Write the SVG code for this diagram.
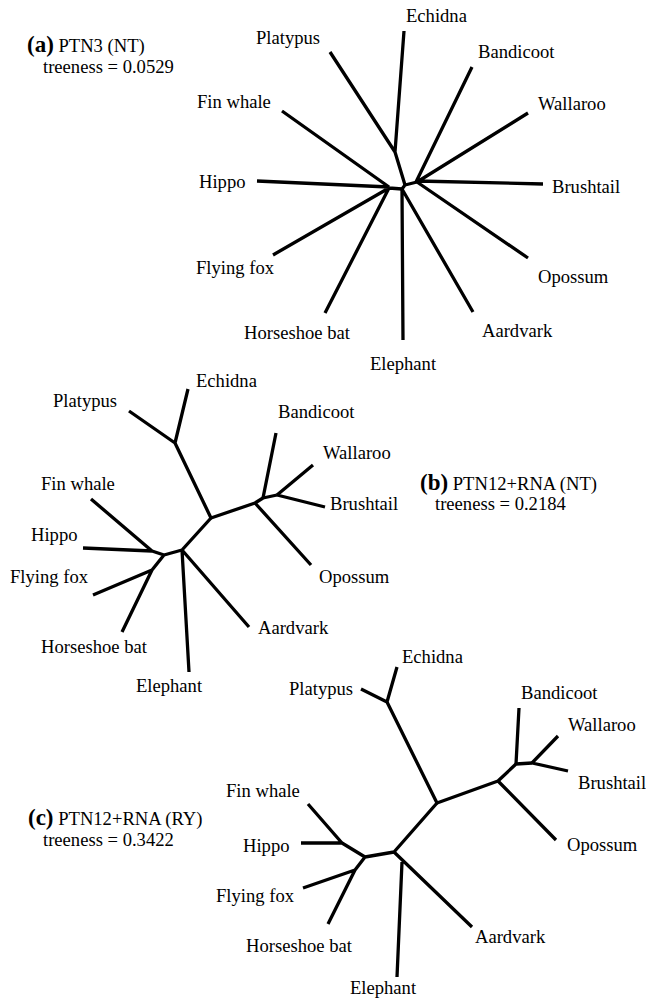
<svg xmlns="http://www.w3.org/2000/svg" width="646" height="1001" viewBox="0 0 646 1001">
<style>
text{font-family:"Liberation Serif","Times New Roman",serif;font-size:18.6px;fill:#000}
.b{font-weight:bold;font-size:23px}
.e path{fill:none;stroke:#000;stroke-width:3.3;stroke-linejoin:round}
</style>
<rect width="646" height="1001" fill="#fff"/>
<!-- Panel (a) -->
<g id="title-a"><text x="27" y="52"><tspan class="b">(a)</tspan> PTN3 (NT)</text><text x="43" y="73">treeness = 0.0529</text></g>
<g class="e" id="edges-a">
<path d="M404,31L395,152L405,185M330,52L395,152"/>
<path d="M282,111L389,187M257,181L389,187M273,255L389,188M325,313L389,188M389,188L402,189L405,185L417,182"/>
<path d="M403,340L402,189M473,312L402,189"/>
<path d="M472,67L416,182M528,113L417,182M543,184L417,181M528,258L417,182"/>
</g>
<g id="a-echidna"><text x="406" y="22">Echidna</text></g>
<g id="a-platypus"><text x="256" y="44">Platypus</text></g>
<g id="a-bandicoot"><text x="478" y="58">Bandicoot</text></g>
<g id="a-wallaroo"><text x="538" y="110">Wallaroo</text></g>
<g id="a-brushtail"><text x="552" y="193">Brushtail</text></g>
<g id="a-opossum"><text x="538" y="283">Opossum</text></g>
<g id="a-aardvark"><text x="482" y="337">Aardvark</text></g>
<g id="a-elephant"><text x="370" y="370">Elephant</text></g>
<g id="a-horseshoe"><text x="244" y="339">Horseshoe bat</text></g>
<g id="a-flyingfox"><text x="196" y="274">Flying fox</text></g>
<g id="a-hippo"><text x="199" y="188">Hippo</text></g>
<g id="a-finwhale"><text x="197" y="108">Fin whale</text></g>
<!-- Panel (b) -->
<g id="title-b"><text x="420" y="490"><tspan class="b">(b)</tspan> PTN12+RNA (NT)</text><text x="435" y="510">treeness = 0.2184</text></g>
<g class="e" id="edges-b">
<path d="M188,389L175,443L211,518L255,503L263,498L277,495M129,411L175,443"/>
<path d="M276,433L263,498M313,465L277,495M325,507L277,495M311,565L255,503"/>
<path d="M211,518L182,550L164,555L152,551M91,499L152,551M83,548L152,551M164,555L152,570M93,595L152,570M122,632L152,570"/>
<path d="M182,550L189,672M249,627L182,550"/>
</g>
<g id="b-echidna"><text x="196" y="387">Echidna</text></g>
<g id="b-platypus"><text x="53" y="407">Platypus</text></g>
<g id="b-bandicoot"><text x="278" y="418">Bandicoot</text></g>
<g id="b-wallaroo"><text x="323" y="459">Wallaroo</text></g>
<g id="b-brushtail"><text x="330" y="510">Brushtail</text></g>
<g id="b-opossum"><text x="319" y="583">Opossum</text></g>
<g id="b-aardvark"><text x="258" y="634">Aardvark</text></g>
<g id="b-elephant"><text x="136" y="692">Elephant</text></g>
<g id="b-horseshoe"><text x="41" y="653">Horseshoe bat</text></g>
<g id="b-flyingfox"><text x="10" y="583">Flying fox</text></g>
<g id="b-hippo"><text x="31" y="541">Hippo</text></g>
<g id="b-finwhale"><text x="41" y="490">Fin whale</text></g>
<!-- Panel (c) -->
<g id="title-c"><text x="28" y="825"><tspan class="b">(c)</tspan> PTN12+RNA (RY)</text><text x="43" y="846">treeness = 0.3422</text></g>
<g class="e" id="edges-c">
<path d="M397,667L387,702L437,803L498,781L516,764L532,763M361,689L387,702"/>
<path d="M519,708L516,764M558,736L532,763M568,771L532,763M556,840L498,781"/>
<path d="M437,803L394,852L365,857L342,843M308,804L342,843M301,843L342,843M365,857L355,870M303,888L355,870M328,924L355,870"/>
<path d="M394,852L472,927M402,862L397,977"/>
</g>
<g id="c-echidna"><text x="402" y="663">Echidna</text></g>
<g id="c-platypus"><text x="289" y="695">Platypus</text></g>
<g id="c-bandicoot"><text x="521" y="699">Bandicoot</text></g>
<g id="c-wallaroo"><text x="568" y="731">Wallaroo</text></g>
<g id="c-brushtail"><text x="578" y="789">Brushtail</text></g>
<g id="c-opossum"><text x="567" y="851">Opossum</text></g>
<g id="c-aardvark"><text x="475" y="943">Aardvark</text></g>
<g id="c-elephant"><text x="350" y="994">Elephant</text></g>
<g id="c-horseshoe"><text x="246" y="952">Horseshoe bat</text></g>
<g id="c-flyingfox"><text x="216" y="902">Flying fox</text></g>
<g id="c-hippo"><text x="243" y="852">Hippo</text></g>
<g id="c-finwhale"><text x="226" y="797">Fin whale</text></g>
</svg>
